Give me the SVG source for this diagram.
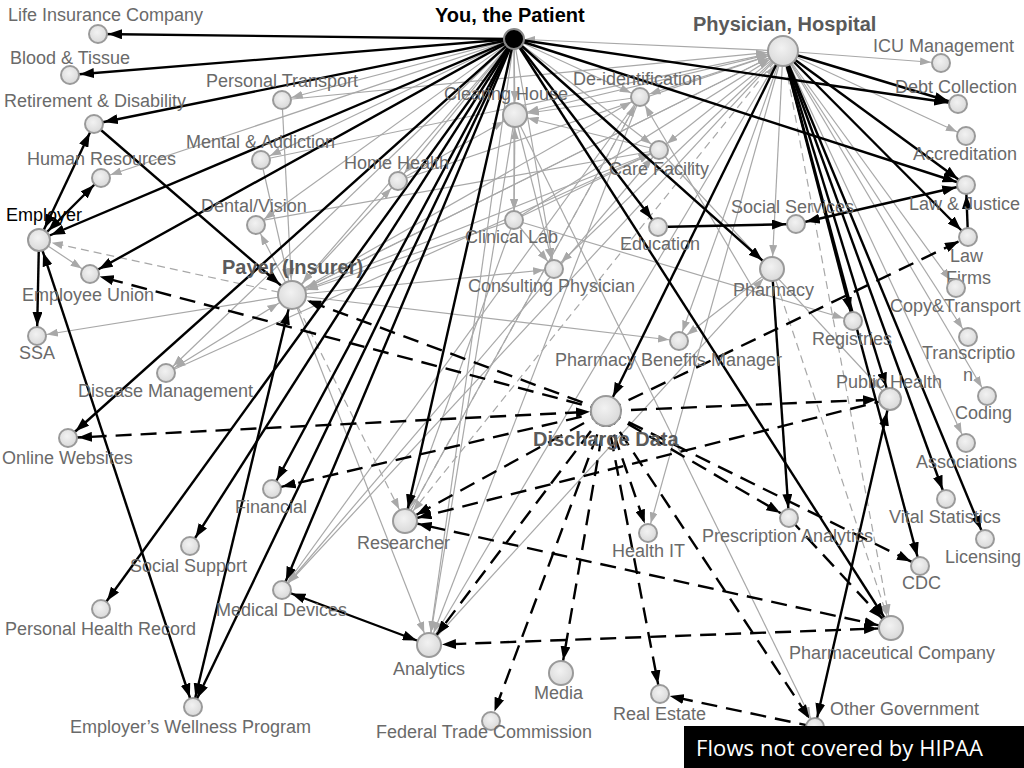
<svg xmlns="http://www.w3.org/2000/svg" width="1024" height="768" viewBox="0 0 1024 768">
<style>
.k{stroke:#000;stroke-width:2.4;fill:none}
.kd{stroke:#000;stroke-width:2.4;stroke-dasharray:16 9;fill:none}
.g{stroke:#a8a8a8;stroke-width:1.2;fill:none}
.gd{stroke:#a8a8a8;stroke-width:1.2;stroke-dasharray:8 5;fill:none}
.n{fill:url(#ng);stroke:#9a9a9a;stroke-width:2}
.t{font-family:"Liberation Sans",Arial,sans-serif;font-size:18px;fill:#6a6a6a}
.b{font-weight:bold;font-size:20px}
</style>
<defs>
<radialGradient id="ng" cx="0.45" cy="0.4" r="0.6"><stop offset="0" stop-color="#f2f2f2"/><stop offset="1" stop-color="#d9d9d9"/></radialGradient>
<marker id="b9" markerUnits="userSpaceOnUse" markerWidth="14" markerHeight="10" refX="24" refY="5" orient="auto-start-reverse"><path d="M0,0L14,5L0,10z" fill="#000"/></marker>
<marker id="b12" markerUnits="userSpaceOnUse" markerWidth="14" markerHeight="10" refX="27" refY="5" orient="auto-start-reverse"><path d="M0,0L14,5L0,10z" fill="#000"/></marker>
<marker id="b15" markerUnits="userSpaceOnUse" markerWidth="14" markerHeight="10" refX="30" refY="5" orient="auto-start-reverse"><path d="M0,0L14,5L0,10z" fill="#000"/></marker>
<marker id="g9" markerUnits="userSpaceOnUse" markerWidth="11" markerHeight="8" refX="21" refY="4" orient="auto-start-reverse"><path d="M0,0L11,4L0,8z" fill="#a8a8a8"/></marker>
<marker id="g12" markerUnits="userSpaceOnUse" markerWidth="11" markerHeight="8" refX="24" refY="4" orient="auto-start-reverse"><path d="M0,0L11,4L0,8z" fill="#a8a8a8"/></marker>
<marker id="g15" markerUnits="userSpaceOnUse" markerWidth="11" markerHeight="8" refX="27" refY="4" orient="auto-start-reverse"><path d="M0,0L11,4L0,8z" fill="#a8a8a8"/></marker>
</defs>
<rect width="1024" height="768" fill="#fff"/>
<g id="connectors">
<!-- gray solid -->
<line class="g" x1="514" y1="39" x2="282" y2="100" marker-end="url(#g9)"/>
<line class="g" x1="514" y1="39" x2="261" y2="160" marker-end="url(#g9)"/>
<line class="g" x1="514" y1="39" x2="101" y2="178" marker-end="url(#g9)"/>
<line class="g" x1="514" y1="39" x2="398" y2="181" marker-end="url(#g9)"/>
<line class="g" x1="514" y1="39" x2="515" y2="115" marker-end="url(#g12)"/>
<line class="g" x1="514" y1="39" x2="256" y2="225" marker-end="url(#g9)"/>
<line class="g" x1="514" y1="39" x2="640" y2="97" marker-end="url(#g9)"/>
<line class="g" x1="514" y1="39" x2="659" y2="150" marker-end="url(#g9)"/>
<line class="g" x1="514" y1="39" x2="292" y2="295" marker-end="url(#g15)"/>
<line class="g" x1="514" y1="39" x2="166" y2="373" marker-end="url(#g9)"/>
<line class="g" x1="514" y1="39" x2="554" y2="269" marker-end="url(#g9)"/>
<line class="g" x1="514" y1="39" x2="514" y2="220" marker-end="url(#g9)"/>
<line class="g" x1="514" y1="39" x2="429" y2="645" marker-end="url(#g12)"/>
<line class="g" x1="783" y1="51" x2="514" y2="39" marker-end="url(#g9)"/>
<line class="g" x1="783" y1="51" x2="941" y2="63" marker-end="url(#g9)"/>
<line class="g" x1="783" y1="51" x2="966" y2="136" marker-end="url(#g9)"/>
<line class="g" x1="783" y1="51" x2="956" y2="288" marker-end="url(#g9)"/>
<line class="g" x1="783" y1="51" x2="968" y2="337" marker-end="url(#g9)"/>
<line class="g" x1="783" y1="51" x2="987" y2="396" marker-end="url(#g9)"/>
<line class="g" x1="783" y1="51" x2="966" y2="443" marker-end="url(#g9)"/>
<line class="g" x1="783" y1="51" x2="515" y2="115" marker-end="url(#g12)"/>
<line class="g" x1="783" y1="51" x2="640" y2="97" marker-end="url(#g9)"/>
<line class="g" x1="783" y1="51" x2="659" y2="150" marker-end="url(#g9)"/>
<line class="g" x1="783" y1="51" x2="772" y2="269" marker-end="url(#g12)"/>
<line class="g" x1="783" y1="51" x2="292" y2="295" marker-end="url(#g15)"/>
<line class="g" x1="783" y1="51" x2="554" y2="269" marker-end="url(#g9)"/>
<line class="g" x1="783" y1="51" x2="679" y2="341" marker-end="url(#g9)"/>
<line class="g" x1="783" y1="51" x2="282" y2="590" marker-end="url(#g9)"/>
<line class="g" x1="783" y1="51" x2="648" y2="533" marker-end="url(#g9)"/>
<line class="g" x1="282" y1="100" x2="783" y2="51" marker-end="url(#g15)"/>
<line class="g" x1="261" y1="160" x2="783" y2="51" marker-end="url(#g15)"/>
<line class="g" x1="398" y1="181" x2="783" y2="51" marker-end="url(#g15)"/>
<line class="g" x1="514" y1="220" x2="783" y2="51" marker-end="url(#g15)"/>
<line class="g" x1="292" y1="295" x2="783" y2="51" marker-end="url(#g15)"/>
<line class="g" x1="429" y1="645" x2="783" y2="51" marker-end="url(#g15)"/>
<line class="g" x1="515" y1="115" x2="514" y2="220" marker-start="url(#g12)" marker-end="url(#g9)"/>
<line class="g" x1="292" y1="295" x2="37" y2="336" marker-end="url(#g9)"/>
<line class="g" x1="292" y1="295" x2="166" y2="373" marker-start="url(#g15)" marker-end="url(#g9)"/>
<line class="g" x1="39" y1="240" x2="90" y2="274" marker-end="url(#g9)"/>
<line class="g" x1="292" y1="295" x2="554" y2="269" marker-end="url(#g9)"/>
<line class="g" x1="292" y1="295" x2="679" y2="341" marker-end="url(#g9)"/>
<line class="g" x1="282" y1="100" x2="292" y2="295" marker-end="url(#g15)"/>
<line class="g" x1="261" y1="160" x2="292" y2="295" marker-end="url(#g15)"/>
<line class="g" x1="292" y1="295" x2="256" y2="225" marker-end="url(#g9)"/>
<line class="g" x1="292" y1="295" x2="398" y2="181" marker-end="url(#g9)"/>
<line class="g" x1="292" y1="295" x2="429" y2="645" marker-end="url(#g12)"/>
<line class="g" x1="515" y1="115" x2="429" y2="645" marker-end="url(#g12)"/>
<line class="g" x1="640" y1="97" x2="429" y2="645" marker-end="url(#g12)"/>
<line class="g" x1="640" y1="97" x2="282" y2="590" marker-end="url(#g9)"/>
<line class="g" x1="772" y1="269" x2="679" y2="341" marker-end="url(#g9)"/>
<line class="g" x1="659" y1="150" x2="890" y2="399" marker-end="url(#g12)"/>
<line class="g" x1="515" y1="115" x2="815" y2="727" marker-end="url(#g9)"/>
<line class="g" x1="514" y1="220" x2="554" y2="269" marker-end="url(#g9)"/>
<line class="g" x1="515" y1="115" x2="554" y2="269" marker-end="url(#g9)"/>
<line class="g" x1="659" y1="150" x2="515" y2="115" marker-end="url(#g12)"/>
<line class="g" x1="640" y1="97" x2="515" y2="115" marker-end="url(#g12)"/>
<line class="g" x1="398" y1="181" x2="515" y2="115" marker-end="url(#g12)"/>
<line class="g" x1="292" y1="295" x2="640" y2="97" marker-end="url(#g9)"/>
<line class="g" x1="292" y1="295" x2="659" y2="150" marker-end="url(#g9)"/>
<line class="g" x1="166" y1="373" x2="659" y2="150" marker-end="url(#g9)"/>
<line class="g" x1="514" y1="220" x2="659" y2="150" marker-end="url(#g9)"/>
<line class="g" x1="405" y1="521" x2="640" y2="97" marker-end="url(#g9)"/>
<line class="g" x1="282" y1="590" x2="659" y2="150" marker-end="url(#g9)"/>
<line class="g" x1="429" y1="645" x2="772" y2="269" marker-end="url(#g12)"/>
<line class="g" x1="514" y1="220" x2="292" y2="295" marker-end="url(#g15)"/>
<line class="g" x1="514" y1="220" x2="405" y2="521" marker-end="url(#g12)"/>
<line class="g" x1="514" y1="220" x2="853" y2="321" marker-end="url(#g9)"/>
<line class="g" x1="754" y1="290" x2="640" y2="97" marker-end="url(#g9)"/>
<line class="g" x1="659" y1="150" x2="253" y2="222"/>
<!-- gray dashed -->
<line class="gd" x1="292" y1="295" x2="39" y2="240" marker-end="url(#g12)"/>
<line class="gd" x1="292" y1="295" x2="405" y2="521" marker-end="url(#g12)"/>
<line class="gd" x1="783" y1="51" x2="405" y2="521" marker-end="url(#g12)"/>
<line class="gd" x1="783" y1="51" x2="891" y2="628" marker-end="url(#g12)"/>
<line class="gd" x1="772" y1="269" x2="891" y2="628" marker-end="url(#g12)"/>
<line class="gd" x1="640" y1="97" x2="405" y2="521"/>
<!-- black solid -->
<line class="k" x1="514" y1="39" x2="98" y2="34" marker-end="url(#b9)"/>
<line class="k" x1="514" y1="39" x2="70" y2="75" marker-end="url(#b9)"/>
<line class="k" x1="514" y1="39" x2="94" y2="124" marker-end="url(#b9)"/>
<line class="k" x1="514" y1="39" x2="39" y2="240" marker-end="url(#b12)"/>
<line class="k" x1="514" y1="39" x2="90" y2="274" marker-end="url(#b9)"/>
<line class="k" x1="514" y1="39" x2="68" y2="438" marker-end="url(#b9)"/>
<line class="k" x1="514" y1="39" x2="101" y2="609" marker-end="url(#b9)"/>
<line class="k" x1="514" y1="39" x2="190" y2="546" marker-end="url(#b9)"/>
<line class="k" x1="514" y1="39" x2="272" y2="489" marker-end="url(#b9)"/>
<line class="k" x1="514" y1="39" x2="282" y2="590" marker-end="url(#b9)"/>
<line class="k" x1="514" y1="39" x2="193" y2="707" marker-end="url(#b9)"/>
<line class="k" x1="514" y1="39" x2="405" y2="521" marker-end="url(#b12)"/>
<line class="k" x1="514" y1="39" x2="658" y2="227" marker-end="url(#b9)"/>
<line class="k" x1="514" y1="39" x2="772" y2="269" marker-end="url(#b12)"/>
<line class="k" x1="514" y1="39" x2="891" y2="628" marker-end="url(#b12)"/>
<line class="k" x1="514" y1="39" x2="958" y2="104" marker-end="url(#b9)"/>
<line class="k" x1="514" y1="39" x2="966" y2="185" marker-end="url(#b9)"/>
<line class="k" x1="783" y1="51" x2="958" y2="104" marker-end="url(#b9)"/>
<line class="k" x1="783" y1="51" x2="966" y2="185" marker-end="url(#b9)"/>
<line class="k" x1="783" y1="51" x2="968" y2="237" marker-end="url(#b9)"/>
<line class="k" x1="783" y1="51" x2="606" y2="411" marker-end="url(#b15)"/>
<line class="k" x1="783" y1="51" x2="853" y2="321" marker-end="url(#b9)"/>
<line class="k" x1="783" y1="51" x2="890" y2="399" marker-end="url(#b12)"/>
<line class="k" x1="783" y1="51" x2="920" y2="566" marker-end="url(#b9)"/>
<line class="k" x1="783" y1="51" x2="946" y2="499" marker-end="url(#b9)"/>
<line class="k" x1="783" y1="51" x2="985" y2="539" marker-end="url(#b9)"/>
<line class="k" x1="658" y1="227" x2="796" y2="224" marker-end="url(#b9)"/>
<line class="k" x1="796" y1="224" x2="966" y2="185" marker-start="url(#b9)" marker-end="url(#b9)"/>
<line class="k" x1="968" y1="237" x2="966" y2="185" marker-end="url(#b9)"/>
<line class="k" x1="772" y1="269" x2="789" y2="518" marker-end="url(#b9)"/>
<line class="k" x1="890" y1="399" x2="815" y2="727" marker-start="url(#b12)" marker-end="url(#b9)"/>
<line class="k" x1="39" y1="240" x2="94" y2="124" marker-start="url(#b12)" marker-end="url(#b9)"/>
<line class="k" x1="39" y1="240" x2="101" y2="178" marker-start="url(#b12)" marker-end="url(#b9)"/>
<line class="k" x1="39" y1="240" x2="37" y2="336" marker-end="url(#b9)"/>
<line class="k" x1="39" y1="240" x2="193" y2="707" marker-start="url(#b12)" marker-end="url(#b9)"/>
<line class="k" x1="94" y1="124" x2="292" y2="295" marker-end="url(#b15)"/>
<line class="k" x1="292" y1="295" x2="193" y2="707" marker-start="url(#b15)" marker-end="url(#b9)"/>
<line class="k" x1="282" y1="590" x2="429" y2="645" marker-start="url(#b9)" marker-end="url(#b12)"/>
<!-- black dashed -->
<line class="kd" x1="606" y1="411" x2="90" y2="274" marker-end="url(#b9)"/>
<line class="kd" x1="606" y1="411" x2="292" y2="295" marker-end="url(#b15)"/>
<line class="kd" x1="606" y1="411" x2="68" y2="438" marker-start="url(#b15)" marker-end="url(#b9)"/>
<line class="kd" x1="606" y1="411" x2="890" y2="399" marker-end="url(#b12)"/>
<line class="kd" x1="606" y1="411" x2="968" y2="237" marker-end="url(#b9)"/>
<line class="kd" x1="890" y1="399" x2="405" y2="521" marker-end="url(#b12)"/>
<line class="kd" x1="606" y1="411" x2="405" y2="521" marker-end="url(#b12)"/>
<line class="kd" x1="606" y1="411" x2="272" y2="489" marker-end="url(#b9)"/>
<line class="kd" x1="606" y1="411" x2="429" y2="645" marker-end="url(#b12)"/>
<line class="kd" x1="606" y1="411" x2="491" y2="721" marker-end="url(#b9)"/>
<line class="kd" x1="606" y1="411" x2="561" y2="673" marker-end="url(#b12)"/>
<line class="kd" x1="606" y1="411" x2="648" y2="533" marker-end="url(#b9)"/>
<line class="kd" x1="606" y1="411" x2="660" y2="694" marker-end="url(#b9)"/>
<line class="kd" x1="606" y1="411" x2="815" y2="727" marker-end="url(#b9)"/>
<line class="kd" x1="606" y1="411" x2="789" y2="518" marker-end="url(#b9)"/>
<line class="kd" x1="606" y1="411" x2="920" y2="566" marker-end="url(#b9)"/>
<line class="kd" x1="891" y1="628" x2="429" y2="645" marker-start="url(#b12)" marker-end="url(#b12)"/>
<line class="kd" x1="405" y1="521" x2="891" y2="628" marker-start="url(#b12)" marker-end="url(#b12)"/>
<line class="kd" x1="789" y1="518" x2="891" y2="628" marker-end="url(#b12)"/>
<line class="kd" x1="815" y1="727" x2="660" y2="694" marker-end="url(#b9)"/>
</g>
<g class="t">
<g id="patient"><circle cx="514" cy="39" r="10" fill="#000" stroke="#888" stroke-width="2"/><text class="b" x="435" y="22" fill="#000" style="fill:#000">You, the Patient</text></g>
<g id="physician"><circle class="n" cx="783" cy="51" r="15"/><text class="b" x="693" y="31" style="fill:#5a5a5a">Physician, Hospital</text></g>
<g id="life-insurance"><circle class="n" cx="98" cy="34" r="9"/><text x="8" y="21">Life Insurance Company</text></g>
<g id="blood-tissue"><circle class="n" cx="70" cy="75" r="9"/><text x="10" y="64">Blood &amp; Tissue</text></g>
<g id="retirement"><circle class="n" cx="94" cy="124" r="9"/><text x="4" y="107">Retirement &amp; Disability</text></g>
<g id="personal-transport"><circle class="n" cx="282" cy="100" r="9"/><text x="206" y="87">Personal Transport</text></g>
<g id="human-resources"><circle class="n" cx="101" cy="178" r="9"/><text x="27" y="165">Human Resources</text></g>
<g id="mental"><circle class="n" cx="261" cy="160" r="9"/><text x="186" y="148">Mental &amp; Addiction</text></g>
<g id="home-health"><circle class="n" cx="398" cy="181" r="9"/><text x="344" y="169">Home Health</text></g>
<g id="clearing-house"><circle class="n" cx="515" cy="115" r="12"/><text x="444" y="100">Clearing House</text></g>
<g id="deidentification"><circle class="n" cx="640" cy="97" r="9"/><text x="573" y="85">De-identification</text></g>
<g id="care-facility"><circle class="n" cx="659" cy="150" r="9"/><text x="609" y="175">Care Facility</text></g>
<g id="dental-vision"><circle class="n" cx="256" cy="225" r="9"/><text x="201" y="212">Dental/Vision</text></g>
<g id="employer"><circle class="n" cx="39" cy="240" r="11"/><text x="6" y="221" style="fill:#000">Employer</text></g>
<g id="clinical-lab"><circle class="n" cx="514" cy="220" r="9"/><text x="465" y="243">Clinical Lab</text></g>
<g id="education"><circle class="n" cx="658" cy="227" r="9"/><text x="620" y="250">Education</text></g>
<g id="social-services"><circle class="n" cx="796" cy="224" r="9"/><text x="731" y="213">Social Services</text></g>
<g id="law-justice"><circle class="n" cx="966" cy="185" r="9"/><text x="909" y="210">Law &amp; Justice</text></g>
<g id="law-firms"><circle class="n" cx="968" cy="237" r="9"/><text x="950" y="262">Law</text><text x="946" y="284">Firms</text></g>
<g id="icu"><circle class="n" cx="941" cy="63" r="9"/><text x="873" y="52">ICU Management</text></g>
<g id="debt"><circle class="n" cx="958" cy="104" r="9"/><text x="895" y="93">Debt Collection</text></g>
<g id="accreditation"><circle class="n" cx="966" cy="136" r="9"/><text x="913" y="160">Accreditation</text></g>
<g id="employee-union"><circle class="n" cx="90" cy="274" r="9"/><text x="22" y="301">Employee Union</text></g>
<g id="payer"><circle class="n" cx="292" cy="295" r="14"/><text class="b" x="222" y="274" style="fill:#5a5a5a">Payer (Insurer)</text></g>
<g id="consulting"><circle class="n" cx="554" cy="269" r="9"/><text x="468" y="292">Consulting Physician</text></g>
<g id="pharmacy"><circle class="n" cx="772" cy="269" r="12"/><text x="733" y="296">Pharmacy</text></g>
<g id="copy-transport"><circle class="n" cx="956" cy="288" r="9"/><text x="890" y="312">Copy&amp;Transport</text></g>
<g id="ssa"><circle class="n" cx="37" cy="336" r="9"/><text x="19" y="359">SSA</text></g>
<g id="registries"><circle class="n" cx="853" cy="321" r="9"/><text x="812" y="345">Registries</text></g>
<g id="pbm"><circle class="n" cx="679" cy="341" r="9"/><text x="555" y="366">Pharmacy Benefits Manager</text></g>
<g id="transcription"><circle class="n" cx="968" cy="337" r="9"/><text x="922" y="359">Transcriptio</text><text x="963" y="381">n</text></g>
<g id="disease-management"><circle class="n" cx="166" cy="373" r="9"/><text x="78" y="397">Disease Management</text></g>
<g id="public-health"><circle class="n" cx="890" cy="399" r="11"/><text x="836" y="388">Public Health</text></g>
<g id="coding"><circle class="n" cx="987" cy="396" r="9"/><text x="955" y="419">Coding</text></g>
<g id="discharge"><circle class="n" cx="606" cy="411" r="15"/><text class="b" x="533" y="446" style="fill:#5a5a5a">Discharge Data</text></g>
<g id="online"><circle class="n" cx="68" cy="438" r="9"/><text x="2" y="464">Online Websites</text></g>
<g id="associations"><circle class="n" cx="966" cy="443" r="9"/><text x="916" y="468">Associations</text></g>
<g id="financial"><circle class="n" cx="272" cy="489" r="9"/><text x="235" y="513">Financial</text></g>
<g id="vital"><circle class="n" cx="946" cy="499" r="9"/><text x="889" y="523">Vital Statistics</text></g>
<g id="researcher"><circle class="n" cx="405" cy="521" r="12"/><text x="357" y="549">Researcher</text></g>
<g id="health-it"><circle class="n" cx="648" cy="533" r="9"/><text x="612" y="557">Health IT</text></g>
<g id="rx-analytics"><circle class="n" cx="789" cy="518" r="9"/><text x="702" y="542">Prescription Analytics</text></g>
<g id="licensing"><circle class="n" cx="985" cy="539" r="9"/><text x="945" y="563">Licensing</text></g>
<g id="social-support"><circle class="n" cx="190" cy="546" r="9"/><text x="130" y="572">Social Support</text></g>
<g id="cdc"><circle class="n" cx="920" cy="566" r="9"/><text x="902" y="589">CDC</text></g>
<g id="medical-devices"><circle class="n" cx="282" cy="590" r="9"/><text x="216" y="616">Medical Devices</text></g>
<g id="phr"><circle class="n" cx="101" cy="609" r="9"/><text x="5" y="635">Personal Health Record</text></g>
<g id="analytics"><circle class="n" cx="429" cy="645" r="12"/><text x="393" y="675">Analytics</text></g>
<g id="pharma"><circle class="n" cx="891" cy="628" r="12"/><text x="789" y="659">Pharmaceutical Company</text></g>
<g id="media"><circle class="n" cx="561" cy="673" r="12"/><text x="534" y="699">Media</text></g>
<g id="real-estate"><circle class="n" cx="660" cy="694" r="9"/><text x="613" y="720">Real Estate</text></g>
<g id="ftc"><circle class="n" cx="491" cy="721" r="9"/><text x="376" y="738">Federal Trade Commission</text></g>
<g id="other-government"><circle class="n" cx="815" cy="727" r="9"/><text x="830" y="715">Other Government</text></g>
<g id="wellness"><circle class="n" cx="193" cy="707" r="9"/><text x="70" y="733">Employer’s Wellness Program</text></g>
</g>
<g id="legend"><rect x="684" y="726" width="340" height="42" fill="#000"/><text x="696" y="756" font-family="'Open Sans','Liberation Sans',sans-serif" font-size="22" fill="#fff" textLength="287">Flows not covered by HIPAA</text></g>
</svg>
